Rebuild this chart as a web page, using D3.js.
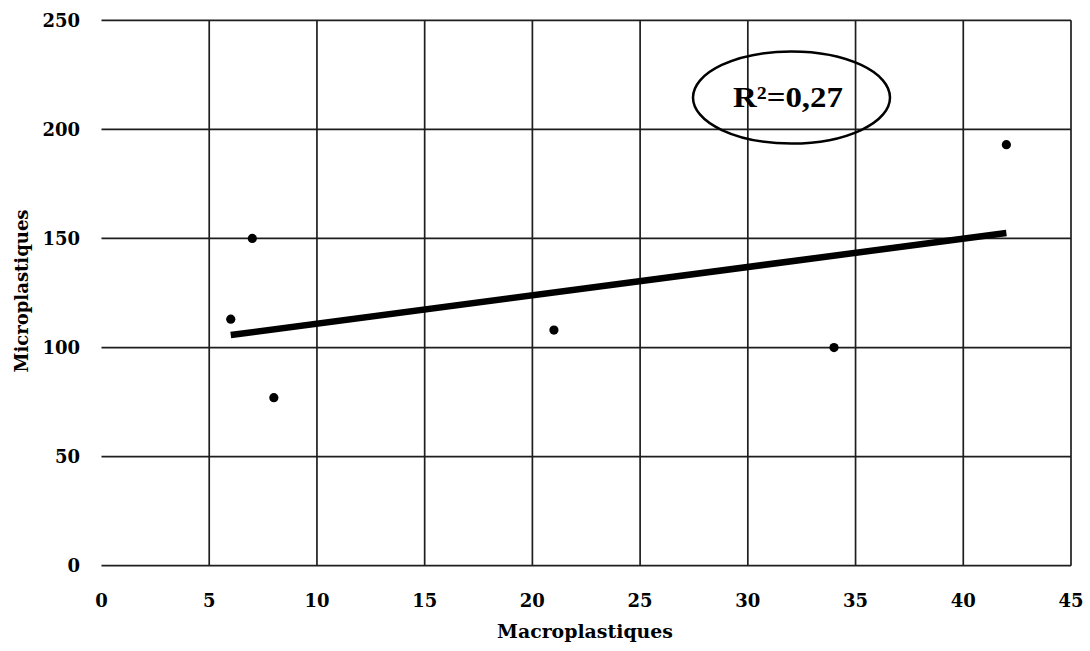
<!DOCTYPE html>
<html>
<head>
  <meta charset="utf-8">
  <title>Macroplastiques vs Microplastiques</title>
  <script src="https://cdn.jsdelivr.net/npm/d3@7"></script>
  <style>
    body { margin: 0; background: #fff; }
    text { font-family: "DejaVu Serif", "Liberation Serif", serif; font-weight: bold; fill: #000; }
  </style>
</head>
<body>
<svg width="1090" height="651"></svg>
<script>
// data
const macro = [6, 7, 8, 21, 34, 42];
const micro = [113, 150, 77, 108, 100, 193];
const xTicks = [0, 5, 10, 15, 20, 25, 30, 35, 40, 45];
const yTicks = [0, 50, 100, 150, 200, 250];
const r2Label = 'R²=0,27';

const svg = d3.select('svg');
const x = d3.scaleLinear().domain([0, 45]).range([101.5, 1071]);
const y = d3.scaleLinear().domain([0, 250]).range([565.7, 20.3]);

// grid
const grid = svg.append('g').attr('stroke', '#1e1e1e').attr('stroke-width', 1.7);
grid.selectAll('line.h').data(yTicks).enter().append('line')
  .attr('class', 'h')
  .attr('x1', x(0)).attr('x2', x(45))
  .attr('y1', d => y(d)).attr('y2', d => y(d));
grid.selectAll('line.v').data(xTicks.filter(d => d > 0)).enter().append('line')
  .attr('class', 'v')
  .attr('x1', d => x(d)).attr('x2', d => x(d))
  .attr('y1', y(0)).attr('y2', y(250));

// tick labels
svg.append('g').selectAll('text').data(yTicks).enter().append('text')
  .attr('x', 80).attr('y', d => y(d))
  .attr('text-anchor', 'end').attr('dominant-baseline', 'central')
  .style('font-size', '18px')
  .text(d => d);
svg.append('g').selectAll('text').data(xTicks).enter().append('text')
  .attr('x', d => x(d)).attr('y', 600)
  .attr('text-anchor', 'middle').attr('dominant-baseline', 'central')
  .style('font-size', '18px')
  .text(d => d);

// axis titles
svg.append('text')
  .attr('x', 585).attr('y', 638)
  .attr('text-anchor', 'middle')
  .attr('textLength', 176).attr('lengthAdjust', 'spacingAndGlyphs')
  .style('font-size', '19px')
  .text('Macroplastiques');
svg.append('text')
  .attr('transform', 'translate(28,291) rotate(-90)')
  .attr('text-anchor', 'middle')
  .attr('textLength', 163).attr('lengthAdjust', 'spacingAndGlyphs')
  .style('font-size', '18px')
  .text('Microplastiques');

// linear trend (least squares)
const mx = d3.mean(macro), my = d3.mean(micro);
const slope = d3.sum(macro, (d, i) => (d - mx) * (micro[i] - my)) / d3.sum(macro, d => (d - mx) ** 2);
const icpt = my - slope * mx;
const [x0, x1] = d3.extent(macro);
svg.append('line')
  .attr('x1', x(x0)).attr('y1', y(icpt + slope * x0))
  .attr('x2', x(x1)).attr('y2', y(icpt + slope * x1))
  .attr('stroke', '#000').attr('stroke-width', 6.5);

// points
svg.append('g').selectAll('circle').data(macro).enter().append('circle')
  .attr('cx', d => x(d)).attr('cy', (d, i) => y(micro[i]))
  .attr('r', 4.6).attr('fill', '#000');

// R² annotation
svg.append('ellipse')
  .attr('cx', 791.5).attr('cy', 97.5).attr('rx', 98.5).attr('ry', 46)
  .attr('fill', 'none').attr('stroke', '#000').attr('stroke-width', 2.5);
svg.append('text')
  .attr('x', 788).attr('y', 107)
  .attr('text-anchor', 'middle')
  .attr('textLength', 110).attr('lengthAdjust', 'spacingAndGlyphs')
  .style('font-family', '"Liberation Serif", serif')
  .style('font-size', '30px')
  .text(r2Label);
</script>
</body>
</html>
